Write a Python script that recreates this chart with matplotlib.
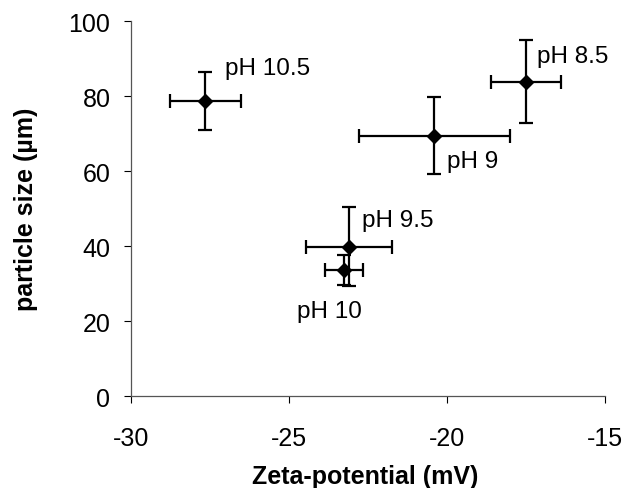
import matplotlib
matplotlib.use("Agg")
import matplotlib.pyplot as plt

plt.rcParams['font.family'] = ['Liberation Sans', 'DejaVu Sans']

# Zeta potential vs. particle size at different pH values
labels = ["pH 8.5", "pH 9", "pH 9.5", "pH 10", "pH 10.5"]
zeta = [-17.5, -20.4, -23.1, -23.25, -27.65]
zeta_err = [1.1, 2.4, 1.37, 0.6, 1.13]
size = [83.9, 69.5, 39.9, 33.7, 78.8]
size_err = [11.0, 10.3, 10.6, 4.0, 7.8]

# label anchor positions (data coordinates)
label_x = [-17.15, -20.01, -22.70, -24.76, -27.03]
label_y = [89.2, 61.1, 45.5, 21.1, 85.9]

fig = plt.figure(figsize=(6.27, 4.89), dpi=100)
ax = fig.add_axes([0.2089, 0.1875, 0.7560, 0.7669])

ax.errorbar(zeta, size, xerr=zeta_err, yerr=size_err, fmt='D', color='black',
            markersize=7.5, elinewidth=1.6, capsize=5, capthick=1.6,
            ecolor='black', zorder=3)

for lab, lx, ly in zip(labels, label_x, label_y):
    ax.text(lx, ly, lab, fontsize=17.5, ha='left', va='baseline', color='black')

ax.set_xlim(-30, -15)
ax.set_ylim(0, 100)
ax.set_xticks([-30, -25, -20, -15])
ax.set_yticks([0, 20, 40, 60, 80, 100])
ax.set_xticklabels(["-30", "-25", "-20", "-15"])
ax.tick_params(direction='out', length=5.3, width=0.8, labelsize=18,
               color='black')
ax.tick_params(axis='x', pad=16)
ax.tick_params(axis='y', pad=9.5)

for side in ['top', 'right']:
    ax.spines[side].set_visible(False)
for side in ['left', 'bottom']:
    ax.spines[side].set_color('#555555')
    ax.spines[side].set_linewidth(0.9)

ax.set_xlabel("Zeta-potential (mV)", fontsize=18, fontweight='bold')
ax.set_ylabel("particle size (µm)", fontsize=18, fontweight='bold')
ax.xaxis.set_label_coords(0.494, -0.180)
ax.yaxis.set_label_coords(-0.196, 0.5)

fig.savefig("out.png", dpi=100)
